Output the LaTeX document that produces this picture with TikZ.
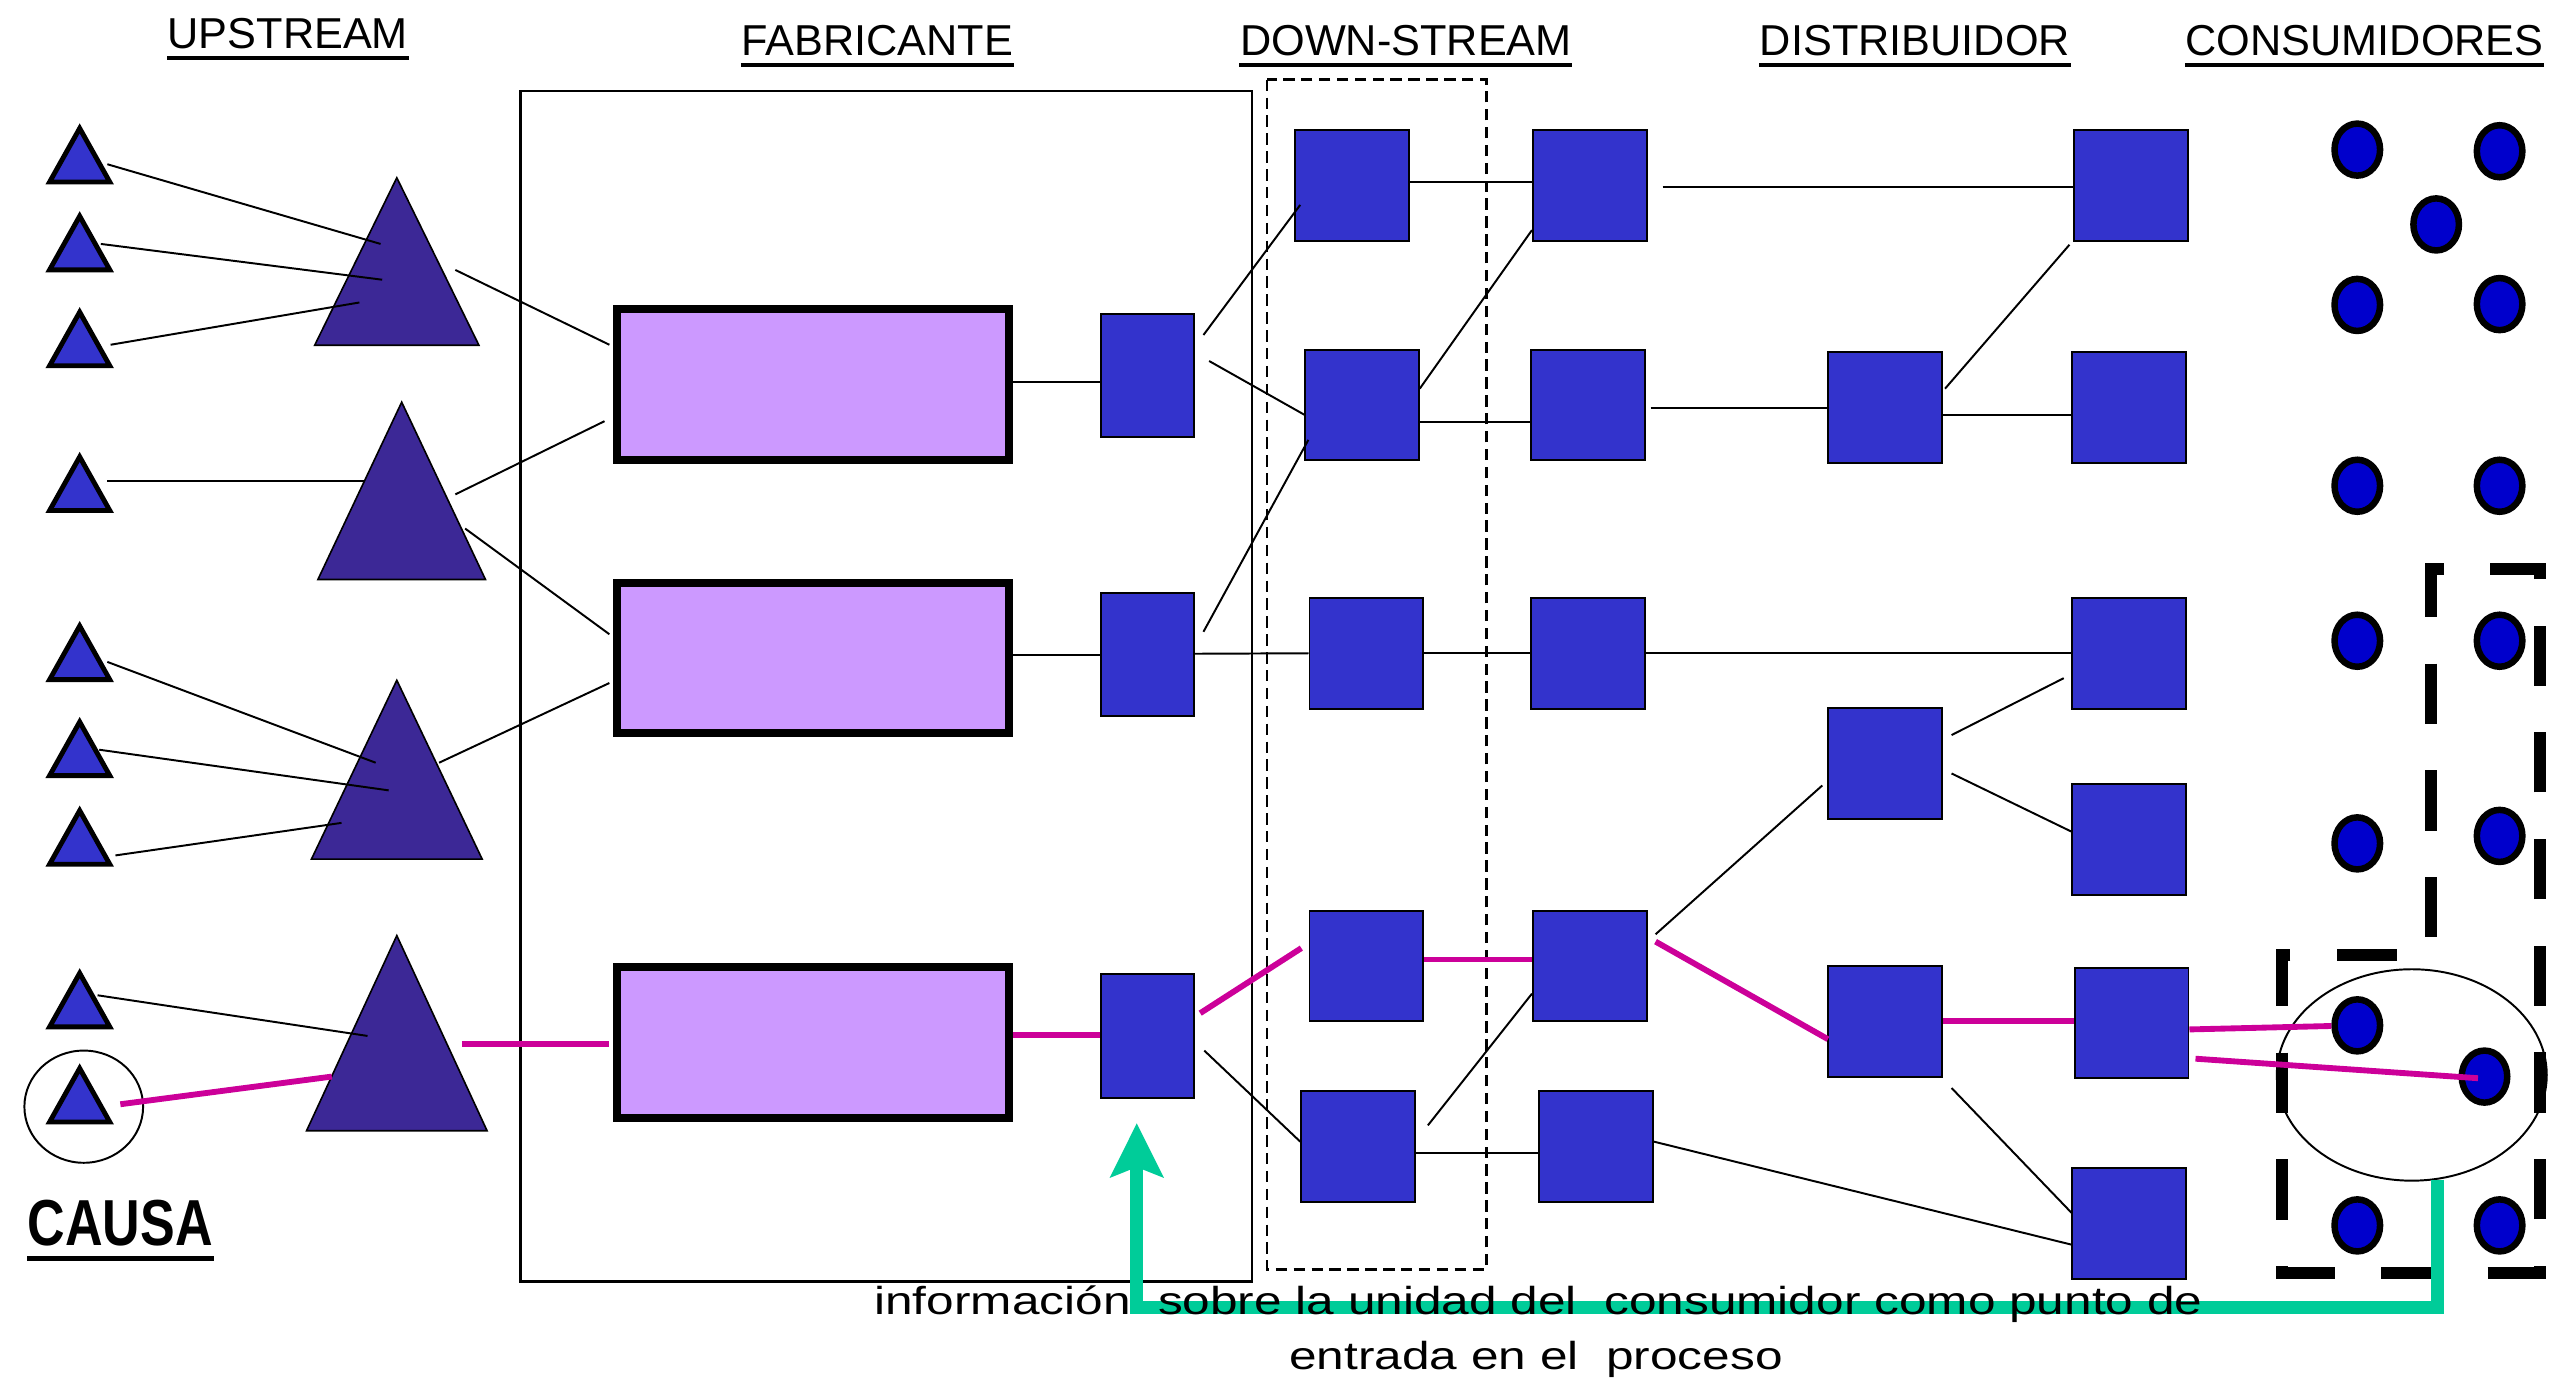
\documentclass[tikz,border=0pt]{standalone}
\usepackage{fontspec}
\setmainfont{Liberation Sans}
\newfontfamily\infofont[FakeStretch=1.27]{Liberation Sans}
\newfontfamily\causafont[FakeStretch=0.8]{Liberation Sans}
\usetikzlibrary{shapes.geometric,arrows.meta}

\definecolor{unitblue}{HTML}{3333CC}
\definecolor{tierpurple}{HTML}{3C2896}
\definecolor{plantlilac}{HTML}{CC99FF}
\definecolor{clientblue}{HTML}{0000CC}
\definecolor{tracepink}{HTML}{CC0099}
\definecolor{feedgreen}{HTML}{00CC99}

\tikzset{
every node/.style={inner sep=0pt},
heading/.style={anchor=base, font=\fontsize{13.3}{16}\selectfont},
supplier/.style={isosceles triangle, isosceles triangle stretches, shape border rotate=90,
  anchor=apex, draw, line width=1.5pt, fill=unitblue, minimum width=18.5pt, minimum height=16.5pt},
tier/.style={isosceles triangle, isosceles triangle stretches, shape border rotate=90,
  anchor=apex, draw, line width=0.5pt, fill=tierpurple},
plant/.style={rectangle, draw, line width=2.5pt, fill=plantlilac, minimum width=120.5pt, minimum height=46.5pt},
unit/.style={rectangle, draw, line width=0.6pt, fill=unitblue, minimum width=35pt, minimum height=34pt},
outlet/.style={unit, minimum width=28.5pt, minimum height=38pt},
client/.style={ellipse, draw, line width=2pt, fill=clientblue, minimum width=14pt, minimum height=16pt},
link/.style={line width=0.6pt},
trace/.style={tracepink, line width=1.8pt},
feedback/.style={feedgreen, line width=4pt, -{Stealth[length=16.5pt,width=16pt,inset=3pt]}},
plantframe/.style={line width=0.7pt},
stagebox/.style={line width=0.8pt, dash pattern=on 3.5pt off 2pt},
recallzone/.style={line width=3.7pt, dash pattern=on 18.5pt off 14.3pt, dash phase=22.25pt},
}

\begin{document}
\begin{tikzpicture}[x=0.5pt, y=-0.5pt]
\useasboundingbox (0,0) rectangle (1568,849);

% headings
\node[heading] (up) at (177,30) {UPSTREAM};
\node[heading] (fab) at (539.5,34) {FABRICANTE};
\node[heading] (down) at (864.5,34) {DOWN-STREAM};
\node[heading] (dist) at (1177.5,34) {DISTRIBUIDOR};
\node[heading] (cons) at (1454,34) {CONSUMIDORES};
\node[heading, font=\causafont\bfseries\fontsize{20}{24}\selectfont] (causa) at (74,766) {CAUSA};
\foreach \h in {up,fab,down,dist,cons}
  \draw[line width=1.2pt] ([yshift=-2.6pt]\h.south west) -- ([yshift=-2.6pt]\h.south east);
\draw[line width=1.4pt] ([yshift=-3.5pt]causa.south west) -- ([yshift=-3.5pt]causa.south east);

% frames
\draw[plantframe] (320,56) rectangle (770,788);
\draw[stagebox] (779,49) rectangle (914,780.5);
\draw[recallzone] (1495,587) -- (1403,587) -- (1403,783) -- (1562,783) -- (1562,350) -- (1495,350) -- cycle;

% upstream
\foreach \n/\y in {t1/75,t2/129,t3/188,t4/277,t5/381,t6/440,t7/494.5,t8/594.5,t9/653}
  \node[supplier] (\n) at (49,\y) {};
\node[ellipse, draw, line width=0.6pt, minimum width=36.5pt, minimum height=34.5pt] (causaring) at (51.5,680.5) {};
\node[tier, minimum width=50.5pt, minimum height=51.5pt] (T1) at (244,108) {};
\node[tier, minimum width=51.5pt, minimum height=54.5pt] (T2) at (247,246) {};
\node[tier, minimum width=52.5pt, minimum height=55pt] (T3) at (244,417) {};
\node[tier, minimum width=55.5pt, minimum height=60pt] (T4) at (244,574) {};

% fabricante
\node[plant] (R1) at (499.7,236.5) {};
\node[plant, minimum height=46pt] (R2) at (499.7,404.5) {};
\node[plant] (R3) at (499.7,641) {};
\foreach \n/\y in {S1/231,S2/402.5,S3/637}
  \node[outlet] (\n) at (705.5,\y) {};

% down-stream and distribuidor
\foreach \n/\x/\y in {D1a/831.5/114, D1b/837.5/249, D1c/840.2/401.7, D1d/840.2/594, D1e/835/705,
    D2a/977.7/114, D2b/976.3/249, D2c/976.3/401.7, D2d/977.7/594, D2e/981.3/705,
    DA/1159/250.6, DB/1159/469.6, DC/1159/628,
    E1/1310.5/114, E2/1309.3/250.6, E3/1309.3/401.7, E4/1309.3/516.3, E5/1310.7/629, E6/1309.3/752.4}
  \node[unit] (\n) at (\x,\y) {};

% consumidores
\foreach \n/\x/\y in {c1/1449.5/92, c2/1537/93, c3/1498/138, c4/1449.5/187.5, c5/1537/187,
    c6/1449.5/298.7, c7/1537/298.7, c8/1449.5/394, c9/1537/394, c10/1449.5/518.6, c11/1537/514,
    c12/1449.5/630.5, c13/1527.7/662, c14/1449.5/753.5, c15/1537/753.5}
  \node[client] (\n) at (\x,\y) {};
\node[ellipse, draw, line width=0.6pt, minimum width=83pt, minimum height=65pt] (focus) at (1483,661) {};

% upstream links
\draw[link] ([shift={(17,26)}]t1.apex) -- ([shift={(-10,42)}]T1.apex);
\draw[link] ([shift={(13,21)}]t2.apex) -- ([shift={(-9,64)}]T1.apex);
\draw[link] ([shift={(19,24)}]t3.apex) -- ([shift={(-23,78)}]T1.apex);
\draw[link] ([shift={(36,58)}]T1.apex) -- ([shift={(-125,-24.5)}]R1.center);
\draw[link] ([shift={(17,19)}]t4.apex) -- ([shift={(-23,50)}]T2.apex);
\draw[link] ([shift={(33,58)}]T2.apex) -- ([shift={(-128,22.5)}]R1.center);
\draw[link] ([shift={(39,79)}]T2.apex) -- ([shift={(-125,-14.5)}]R2.center);
\draw[link] ([shift={(17,26)}]t5.apex) -- ([shift={(-13,52)}]T3.apex);
\draw[link] ([shift={(12,21)}]t6.apex) -- ([shift={(-5,69)}]T3.apex);
\draw[link] ([shift={(22,31.5)}]t7.apex) -- ([shift={(-34,89)}]T3.apex);
\draw[link] ([shift={(26,52)}]T3.apex) -- ([shift={(-125,15.5)}]R2.center);
\draw[link] ([shift={(11,17.5)}]t8.apex) -- ([shift={(-18,63)}]T4.apex);

% fabricante and down-stream links
\draw[link] ([shift={(0,-1.5)}]R1.east) -- ([shift={(0,4)}]S1.west);
\draw[link] ([shift={(0,-1.5)}]R2.east) -- ([shift={(0,0.5)}]S2.west);
\draw[link] ([shift={(34.5,-25)}]S1.center) -- ([shift={(-32,12)}]D1a.center);
\draw[link] ([shift={(38,-9)}]S1.center) -- ([shift={(-35.5,6)}]D1b.center);
\draw[link] ([shift={(34.5,-14)}]S2.center) -- ([shift={(-33,21.5)}]D1b.center);
\draw[link] ([shift={(0,-0.5)}]S2.east) -- (D1c.west);
\draw[link] ([shift={(35,9)}]S3.center) -- ([shift={(-35.5,-3)}]D1e.center);
\draw[link] ([shift={(0,-2)}]D1a.east) -- ([shift={(0,-2)}]D2a.west);
\draw[link] ([shift={(35.5,-10)}]D1b.center) -- ([shift={(-35.7,27.5)}]D2a.center);
\draw[link] ([shift={(0,10.5)}]D1b.east) -- ([shift={(0,10.5)}]D2b.west);
\draw[link] (D1c.east) -- (D2c.west);
\draw[link] ([shift={(43,-13)}]D1e.center) -- ([shift={(-35.7,17)}]D2d.center);
\draw[link] ([shift={(0,4)}]D1e.east) -- ([shift={(0,4)}]D2e.west);

% distribuidor links
\draw[link] ([shift={(9,1)}]D2a.east) -- ([shift={(0,1)}]E1.west);
\draw[link] ([shift={(3,2)}]D2b.east) -- ([shift={(0,0.4)}]DA.west);
\draw[link] ([shift={(37,-11.6)}]DA.center) -- ([shift={(-38,36.5)}]E1.center);
\draw[link] ([shift={(0,4.4)}]DA.east) -- ([shift={(0,4.4)}]E2.west);
\draw[link] (D2c.east) -- (E3.west);
\draw[link] ([shift={(40.3,-19.5)}]D2d.center) -- ([shift={(-38.5,13.4)}]DB.center);
\draw[link] ([shift={(41,-17.6)}]DB.center) -- ([shift={(-40.3,15.3)}]E3.center);
\draw[link] ([shift={(41,6)}]DB.center) -- ([shift={(-35.3,-4.8)}]E4.center);
\draw[link] ([shift={(41,41)}]DC.center) -- ([shift={(-35.3,-6.4)}]E6.center);
\draw[link] ([shift={(35.7,-3)}]D2e.center) -- ([shift={(-35.3,13)}]E6.center);

% traced unit
\draw[trace] ([shift={(25,26)}]t9.apex) -- ([shift={(-40,88)}]T4.apex);
\draw[trace] ([shift={(40,68)}]T4.apex) -- ([shift={(-125,1)}]R3.center);
\draw[trace] ([shift={(0,-4.5)}]R3.east) -- ([shift={(0,-0.5)}]S3.west);
\draw[trace] ([shift={(32.5,-14)}]S3.center) -- ([shift={(-40,-11)}]D1d.center);
\draw[trace] ([shift={(0,-4)}]D1d.east) -- ([shift={(0,-4)}]D2d.west);
\draw[trace] ([shift={(40.3,-15)}]D2d.center) -- ([shift={(-35,11)}]DC.center);
\draw[trace] (DC.east) -- ([shift={(0,-1)}]E5.west);
\draw[trace] ([shift={(0,4)}]E5.east) -- (c12);
\draw[trace] ([shift={(39.3,22)}]E5.center) -- ([shift={(-4,1)}]c13.center);

% information back to the plant
\coordinate (bend) at (699,804);
\draw[feedback, shorten >=7.5pt] (focus.-76) |- (bend) -- (bend |- S3.south);
\node[anchor=base, font=\infofont\fontsize{12}{14}\selectfont] (info1) at (946,808)
  {información\ \ sobre la unidad del\ \ consumidor como punto de};
\node[anchor=base, font=\infofont\fontsize{12}{14}\selectfont] (info2) at (944.5,842)
  {entrada en el\ \ proceso};
\end{tikzpicture}
\end{document}
